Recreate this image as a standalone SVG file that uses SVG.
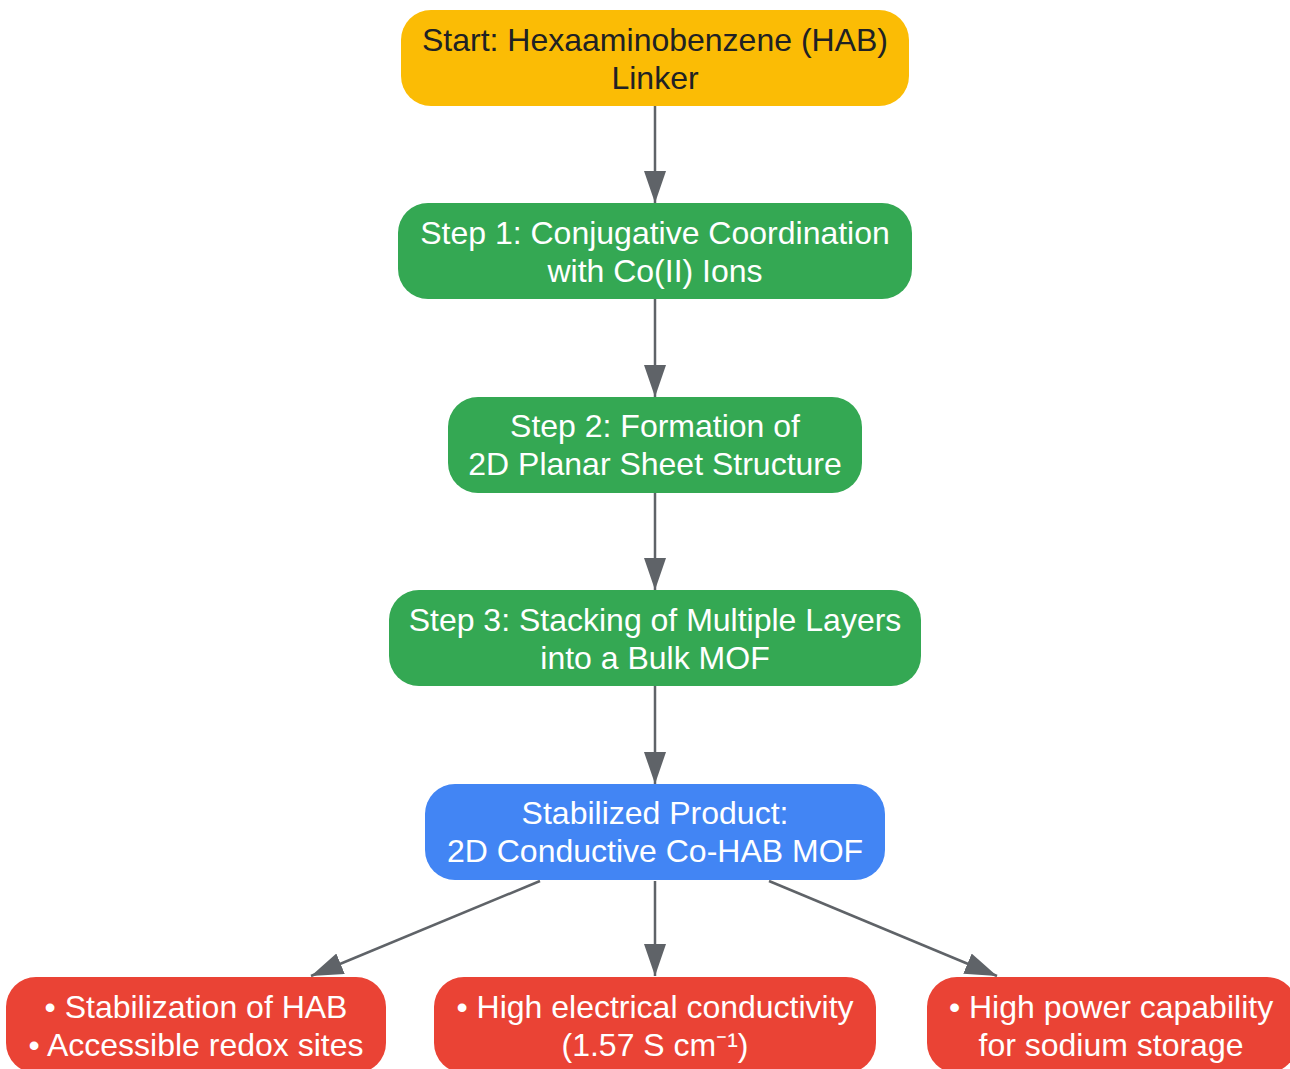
<svg xmlns="http://www.w3.org/2000/svg" width="1290" height="1069" viewBox="0 0 1290 1069">
<defs>
<marker id="arr" markerUnits="userSpaceOnUse" markerWidth="34" markerHeight="24" refX="32" refY="11" orient="auto">
<path d="M0,0 L32,11 L0,22 Z" fill="#5f6368"/>
</marker>
<style>
.t{font-family:"Liberation Sans",Arial,sans-serif;font-size:32px;text-anchor:middle;fill:#ffffff}
.dk{fill:#202124}
.e{stroke:#5f6368;stroke-width:2.5;fill:none;marker-end:url(#arr)}
.y{fill:#FBBC05}.g{fill:#34A853}.b{fill:#4285F4}.r{fill:#EA4335}
</style>
</defs>
<rect width="1290" height="1069" fill="#ffffff"/>
<g id="connectors">
<line class="e" x1="655" y1="106" x2="655" y2="203"/>
<line class="e" x1="655" y1="299" x2="655" y2="397"/>
<line class="e" x1="655" y1="493" x2="655" y2="590"/>
<line class="e" x1="655" y1="686" x2="655" y2="784"/>
<line class="e" x1="540" y1="881" x2="311" y2="976"/>
<line class="e" x1="655" y1="881" x2="655" y2="976"/>
<line class="e" x1="769" y1="881" x2="997" y2="976"/>
</g>
<g id="start">
<rect class="y" x="401" y="10" width="508" height="96" rx="30"/>
<text class="t dk" x="655" y="51">Start: Hexaaminobenzene (HAB)</text>
<text class="t dk" x="655" y="89">Linker</text>
</g>
<g id="step1">
<rect class="g" x="398" y="203" width="514" height="96" rx="30"/>
<text class="t" x="655" y="244">Step 1: Conjugative Coordination</text>
<text class="t" x="655" y="282">with Co(II) Ions</text>
</g>
<g id="step2">
<rect class="g" x="448" y="397" width="414" height="96" rx="30"/>
<text class="t" x="655" y="437">Step 2: Formation of</text>
<text class="t" x="655" y="475">2D Planar Sheet Structure</text>
</g>
<g id="step3">
<rect class="g" x="389" y="590" width="532" height="96" rx="30"/>
<text class="t" x="655" y="631">Step 3: Stacking of Multiple Layers</text>
<text class="t" x="655" y="669">into a Bulk MOF</text>
</g>
<g id="product">
<rect class="b" x="425" y="784" width="460" height="96" rx="30"/>
<text class="t" x="655" y="824">Stabilized Product:</text>
<text class="t" x="655" y="862">2D Conductive Co-HAB MOF</text>
</g>
<g id="out1">
<rect class="r" x="6" y="977" width="380" height="96" rx="30"/>
<text class="t" x="196" y="1018">• Stabilization of HAB</text>
<text class="t" x="196" y="1056">• Accessible redox sites</text>
</g>
<g id="out2">
<rect class="r" x="434" y="977" width="442" height="96" rx="30"/>
<text class="t" x="655" y="1018">• High electrical conductivity</text>
<text class="t" x="655" y="1056">(1.57 S cm⁻¹)</text>
</g>
<g id="out3">
<rect class="r" x="927" y="977" width="370" height="96" rx="30"/>
<text class="t" x="1111" y="1018">• High power capability</text>
<text class="t" x="1111" y="1056">for sodium storage</text>
</g>
</svg>
